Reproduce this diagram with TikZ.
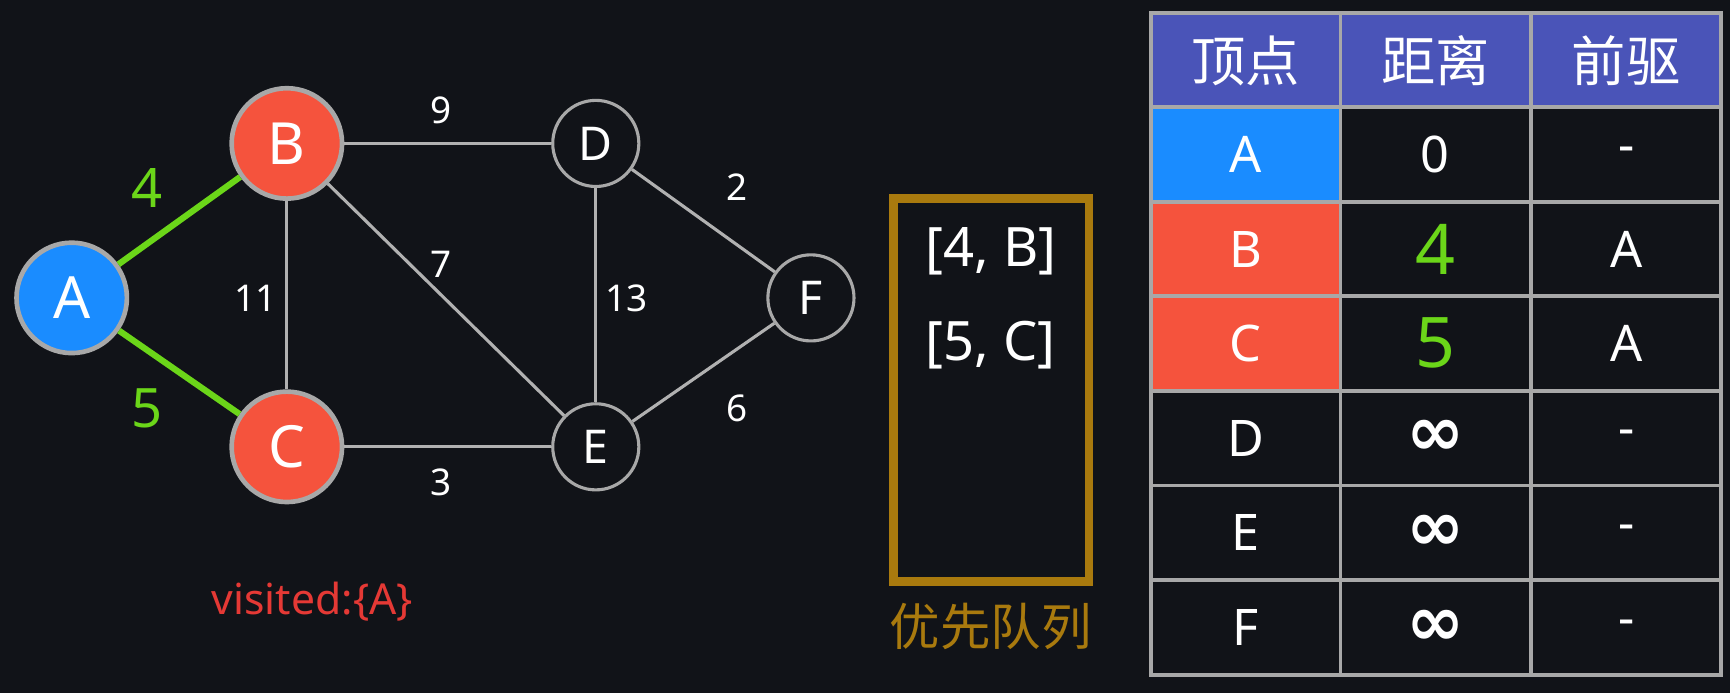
\documentclass[tikz,border=0pt]{standalone}
\usepackage{fontspec}
\setmainfont{Noto Sans}
\newfontfamily\cjk{Noto Sans CJK SC}
\newfontfamily\dejavu{DejaVu Sans}
\definecolor{bg}{HTML}{111318}
\definecolor{nblue}{HTML}{1A8CFF}
\definecolor{nred}{HTML}{F5533D}
\definecolor{ngreen}{HTML}{6BD619}
\definecolor{gold}{HTML}{A97A0E}
\definecolor{hdr}{HTML}{4A54B8}
\definecolor{grid}{HTML}{A8A8A8}
\definecolor{vred}{HTML}{E53935}
\begin{document}
\begin{tikzpicture}[x=0.01cm,y=-0.01cm,
  bigc/.style={circle,minimum size=1cm,inner sep=0pt,draw=grid,line width=1.2pt,text=white,font=\fontsize{15}{15}\selectfont},
  smallc/.style={circle,minimum size=0.78cm,inner sep=0pt,draw=grid,line width=0.8pt,text=white,font=\fontsize{12}{12}\selectfont},
  edge/.style={draw=grid!90,line width=0.8pt},
  hot/.style={draw=ngreen,line width=1.6pt},
  wl/.style={text=white,font=\fontsize{9.5}{9.5}\selectfont},
  gl/.style={text=ngreen,font=\fontsize{14}{14}\selectfont},
  cell/.style={text=white,inner sep=1pt,font=\fontsize{13}{13}\selectfont}]
\fill[bg] (0,0) rectangle (1568,628);
\useasboundingbox (0,0) rectangle (1568,628);
\node[bigc,fill=nblue] (A) at (65,270) {A};
\node[bigc,fill=nred] (B) at (260,130) {B};
\node[bigc,fill=nred] (C) at (260,405) {C};
\node[smallc] (D) at (540,130) {D};
\node[smallc] (E) at (540,405) {E};
\node[smallc] (F) at (735,270) {F};
\draw[hot] (A) -- (B);
\draw[hot] (A) -- (C);
\draw[edge] (B) -- (D);
\draw[edge] (B) -- (C);
\draw[edge] (B) -- (E);
\draw[edge] (D) -- (E);
\draw[edge] (D) -- (F);
\draw[edge] (C) -- (E);
\draw[edge] (E) -- (F);
\node[gl] (l4) at (133,170) {4};
\node[gl] (l5) at (133,370) {5};
\node[wl] (l9) at (400,100) {9};
\node[wl] (l11) at (232,270) {11};
\node[wl] (l7) at (400,240) {7};
\node[wl] (l13) at (568,270) {13};
\node[wl] (l2) at (668,170) {2};
\node[wl] (l3) at (400,437) {3};
\node[wl] (l6) at (668,370) {6};
\node[text=vred,font=\fontsize{11}{11}\selectfont] (vis) at (283,545) {visited:\{A\}};
\draw[gold,line width=2.3pt] (810,180) rectangle (987,527);
\node[cell,font=\fontsize{14}{14}\selectfont] (q1) at (898,228) {[4, B]};
\node[cell,font=\fontsize{14}{14}\selectfont] (q2) at (898,313) {[5, C]};
\node[text=gold,font=\cjk\fontsize{13}{13}\selectfont] (ql) at (898,568) {优先队列};
% table
\fill[hdr] (1043,12) rectangle (1560,97);
\fill[nblue] (1043,97) rectangle (1215,183);
\fill[nred] (1043,183) rectangle (1215,354);
\draw[grid,line width=1pt] (1043,12) rectangle (1560,612);
\foreach \x in {1215,1388} \draw[grid,line width=1pt] (\x,12) -- (\x,612);
\foreach \y in {97,183,268,354,440,526} \draw[grid,line width=1pt] (1043,\y) -- (1560,\y);
\node[cell,font=\cjk\fontsize{14}{14}\selectfont] (h1) at (1129,55) {顶点};
\node[cell,font=\cjk\fontsize{14}{14}\selectfont] (h2) at (1301,55) {距离};
\node[cell,font=\cjk\fontsize{14}{14}\selectfont] (h3) at (1474,55) {前驱};
\node[cell] (a1) at (1129,140) {A};
\node[cell] (a2) at (1301,140) {0};
\node[cell] (a3) at (1474,140) {-};
\node[cell] (b1) at (1129,226) {B};
\node[gl,inner sep=1pt,font=\fontsize{18}{18}\selectfont] (b2) at (1301,226) {4};
\node[cell] (b3) at (1474,226) {A};
\node[cell] (c1) at (1129,311) {C};
\node[gl,inner sep=1pt,font=\fontsize{18}{18}\selectfont] (c2) at (1301,311) {5};
\node[cell] (c3) at (1474,311) {A};
\foreach \n/\y in {D/397,E/483,F/569}{
  \node[cell] (r\n1) at (1129,\y) {\n};
  \node[cell,font=\dejavu\bfseries\fontsize{18}{18}\selectfont] (r\n2) at (1301,\y) {∞};
  \node[cell] (r\n3) at (1474,\y) {-};
}
\end{tikzpicture}
\end{document}
